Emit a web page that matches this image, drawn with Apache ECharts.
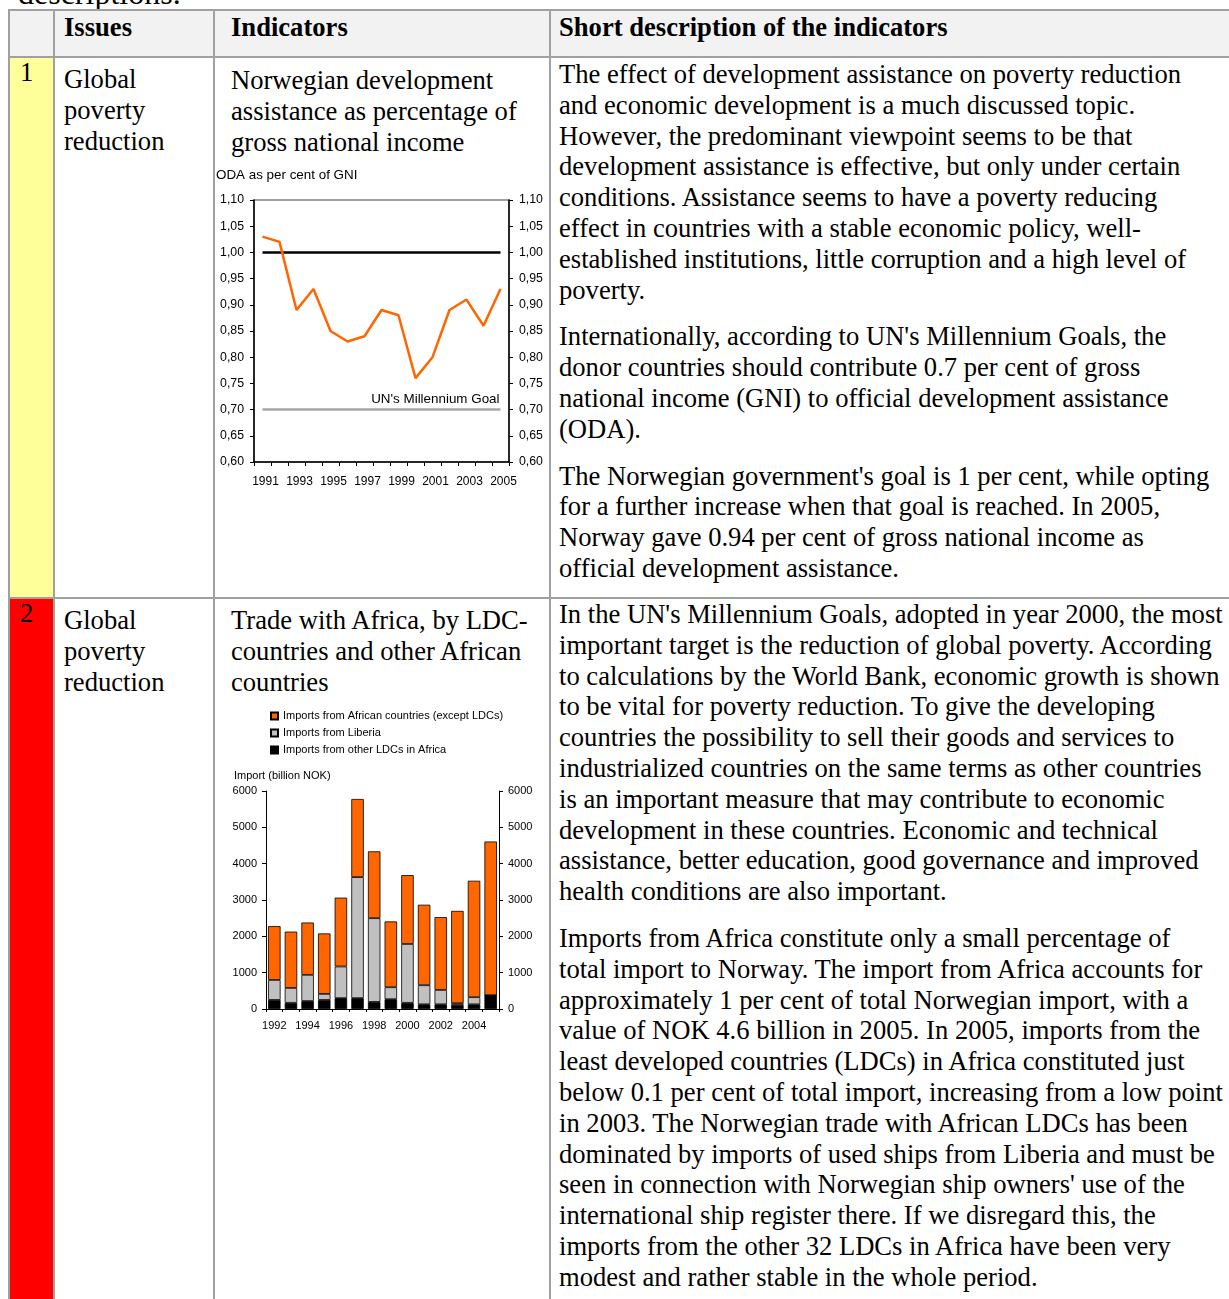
<!DOCTYPE html>
<html><head><meta charset="utf-8">
<script src="https://cdn.jsdelivr.net/npm/echarts@6/dist/echarts.min.js"></script>
<style>
html,body{margin:0;padding:0;background:#fff;}
#page{position:relative;width:1229px;height:1299px;overflow:hidden;background:#fff;font-family:'Liberation Serif','Times New Roman',serif;color:#000;}
.hl{position:absolute;height:2px;background:#a0a0a0;}
.vl{position:absolute;width:2px;background:#a0a0a0;}
.bg{position:absolute;}
.t{position:absolute;white-space:nowrap;font-size:26.6px;line-height:30.8px;}
.t p{margin:0 0 16px 0;}
.b{font-weight:bold;}
.chart{position:absolute;}
</style></head>
<body>
<div id="page">
  <div class="t" style="left:18px;top:-23px;font-size:32px;line-height:32px;">descriptions.</div>
  <!-- backgrounds -->
  <div class="bg" style="left:9px;top:11px;width:1230px;height:46px;background:#f2f2f2;"></div>
  <div class="bg" style="left:9px;top:58px;width:45px;height:540px;background:#ffff99;"></div>
  <div class="bg" style="left:9px;top:599px;width:45px;height:720px;background:#ff0000;"></div>
  <!-- lines -->
  <div class="hl" style="left:8px;top:9px;width:1230px;"></div>
  <div class="hl" style="left:8px;top:56px;width:1230px;"></div>
  <div class="hl" style="left:8px;top:597px;width:1230px;"></div>
  <div class="vl" style="left:8px;top:9px;height:1300px;"></div>
  <div class="vl" style="left:53px;top:9px;height:1300px;"></div>
  <div class="vl" style="left:213px;top:9px;height:1300px;"></div>
  <div class="vl" style="left:549px;top:9px;height:1300px;"></div>
  <!-- header -->
  <div class="t b" style="left:64px;top:12px;">Issues</div>
  <div class="t b" style="left:231px;top:12px;">Indicators</div>
  <div class="t b" style="left:559px;top:12px;">Short description of the indicators</div>
  <!-- row 1 -->
  <div class="t" style="left:20px;top:57px;">1</div>
  <div class="t" style="left:64px;top:64px;">Global<br>poverty<br>reduction</div>
  <div class="t" style="left:231px;top:65px;">Norwegian development<br>assistance as percentage of<br>gross national income</div>
  <div class="t" style="left:559px;top:59px;">
    <p>The effect of development assistance on poverty reduction<br>and economic development is a much discussed topic.<br>However, the predominant viewpoint seems to be that<br>development assistance is effective, but only under certain<br>conditions. Assistance seems to have a poverty reducing<br>effect in countries with a stable economic policy, well-<br>established institutions, little corruption and a high level of<br>poverty.</p>
    <p>Internationally, according to UN's Millennium Goals, the<br>donor countries should contribute 0.7 per cent of gross<br>national income (GNI) to official development assistance<br>(ODA).</p>
    <p>The Norwegian government's goal is 1 per cent, while opting<br>for a further increase when that goal is reached. In 2005,<br>Norway gave 0.94 per cent of gross national income as<br>official development assistance.</p>
  </div>
  <!-- row 2 -->
  <div class="t" style="left:20px;top:598px;">2</div>
  <div class="t" style="left:64px;top:605px;">Global<br>poverty<br>reduction</div>
  <div class="t" style="left:231px;top:605px;">Trade with Africa, by LDC-<br>countries and other African<br>countries</div>
  <div class="t" style="left:559px;top:599px;">
    <p>In the UN's Millennium Goals, adopted in year 2000, the most<br>important target is the reduction of global poverty. According<br>to calculations by the World Bank, economic growth is shown<br>to be vital for poverty reduction. To give the developing<br>countries the possibility to sell their goods and services to<br>industrialized countries on the same terms as other countries<br>is an important measure that may contribute to economic<br>development in these countries. Economic and technical<br>assistance, better education, good governance and improved<br>health conditions are also important.</p>
    <p>Imports from Africa constitute only a small percentage of<br>total import to Norway. The import from Africa accounts for<br>approximately 1 per cent of total Norwegian import, with a<br>value of NOK 4.6 billion in 2005. In 2005, imports from the<br>least developed countries (LDCs) in Africa constituted just<br>below 0.1 per cent of total import, increasing from a low point<br>in 2003. The Norwegian trade with African LDCs has been<br>dominated by imports of used ships from Liberia and must be<br>seen in connection with Norwegian ship owners' use of the<br>international ship register there. If we disregard this, the<br>imports from the other 32 LDCs in Africa have been very<br>modest and rather stable in the whole period.</p>
  </div>
  <div id="c1" class="chart" style="left:214px;top:160px;width:336px;height:335px;"></div>
  <div id="c2" class="chart" style="left:230px;top:700px;width:320px;height:340px;"></div>
</div>
<script>
// ---- Chart 1 data ----
const odaYears = ['1991','1992','1993','1994','1995','1996','1997','1998','1999','2000','2001','2002','2003','2004','2005'];
const odaPct = [1.03,1.02,0.89,0.93,0.85,0.83,0.84,0.89,0.88,0.76,0.80,0.89,0.91,0.86,0.93];
const norwayGoal = [1.00,1.00,1.00,1.00,1.00,1.00,1.00,1.00,1.00,1.00,1.00,1.00,1.00,1.00,1.00];
const unGoal = [0.70,0.70,0.70,0.70,0.70,0.70,0.70,0.70,0.70,0.70,0.70,0.70,0.70,0.70,0.70];
const odaTitle = 'ODA as per cent of GNI';
const unGoalLabel = "UN's Millennium Goal";

// ---- Chart 2 data ----
const tradeYears = ['1992','1993','1994','1995','1996','1997','1998','1999','2000','2001','2002','2003','2004','2005'];
const otherLDC = [250,170,220,250,300,300,195,270,170,130,130,110,130,380];
const liberia = [550,410,720,165,870,3330,2305,330,1620,525,395,50,195,0];
const otherAfrica = [1480,1550,1440,1665,1895,2150,1840,1810,1895,2215,2005,2540,3205,4230];
const tradeNames = ['Imports from African countries (except LDCs)','Imports from Liberia','Imports from other LDCs in Africa'];
const tradeTitle = 'Import (billion NOK)';

const sans = "'Liberation Sans', Arial, sans-serif";

const c1 = echarts.init(document.getElementById('c1'));
const yAx1 = (pos) => ({
  type:'value', position:pos, min:0.6, max:1.1, interval:0.05,
  axisLine:{show:true, lineStyle:{color:'#000', width:1.5}},
  axisTick:{show:true, length:4, lineStyle:{color:'#000'}},
  axisLabel:{fontFamily:sans, fontSize:12.3, color:'#000', margin:10, formatter:v=>v.toFixed(2).replace('.',',')},
  splitLine:{show:false}
});
c1.setOption({
  animation:false,
  grid:{left:40,right:41,top:40,bottom:33,show:true,borderColor:'#808080',borderWidth:1.5,containLabel:false,outerBoundsMode:'none'},
  graphic:[{type:'text',left:2,top:9,style:{text:odaTitle,font:"13.4px "+sans,fill:'#000'}}],
  xAxis:{type:'category',data:odaYears,boundaryGap:true,
    axisLine:{lineStyle:{color:'#000',width:1.5}},
    axisTick:{show:true,interval:0,length:4,lineStyle:{color:'#000'}},
    axisLabel:{interval:1,fontFamily:sans,fontSize:12,color:'#000',margin:14,padding:[0,0,0,6]}},
  yAxis:[yAx1('left'), yAx1('right')],
  series:[
    {type:'line',data:norwayGoal,symbol:'none',lineStyle:{color:'#000',width:2.5},z:2},
    {type:'line',data:unGoal,symbol:'none',lineStyle:{color:'#a6a6a6',width:2.5},z:2,
      endLabel:{show:true,formatter:unGoalLabel,align:'right',verticalAlign:'bottom',distance:0,offset:[-1,-4],fontFamily:sans,fontSize:13.4,color:'#000'}},
    {type:'line',data:odaPct,symbol:'none',lineStyle:{color:'#ff6600',width:2.5},z:3}
  ]
});

const c2 = echarts.init(document.getElementById('c2'));
const yAx2 = (pos) => ({
  type:'value', position:pos, min:0, max:6000, interval:1000,
  axisLine:{show:true, lineStyle:{color:'#000', width:1}},
  axisTick:{show:true, length:4, lineStyle:{color:'#000'}},
  axisLabel:{fontFamily:sans, fontSize:11, color:'#000', margin:9, formatter:v=>String(v)},
  splitLine:{show:false}
});
const barStyle = (c)=>({color:c,borderColor:'#000',borderWidth:0.8});
c2.setOption({
  animation:false,
  grid:{left:36,right:51,top:91,bottom:31,containLabel:false,outerBoundsMode:'none'},
  graphic:[{type:'text',left:4,top:70,style:{text:tradeTitle,font:"11px "+sans,fill:'#000'}}],
  legend:{orient:'vertical',left:40,top:10,padding:0,itemWidth:7,itemHeight:7,itemGap:5,
    data:tradeNames,icon:'rect',
    textStyle:{fontFamily:sans,fontSize:11,color:'#000',lineHeight:12}},
  xAxis:{type:'category',data:tradeYears,boundaryGap:true,
    axisLine:{lineStyle:{color:'#000',width:1}},
    axisTick:{show:true,interval:0,length:3,lineStyle:{color:'#000'}},
    axisLabel:{interval:1,fontFamily:sans,fontSize:11,color:'#000',margin:11}},
  yAxis:[yAx2('left'), yAx2('right')],
  series:[
    {name:tradeNames[2],type:'bar',stack:'t',data:otherLDC,barCategoryGap:'25%',itemStyle:barStyle('#000000')},
    {name:tradeNames[1],type:'bar',stack:'t',data:liberia,itemStyle:barStyle('#c0c0c0')},
    {name:tradeNames[0],type:'bar',stack:'t',data:otherAfrica,itemStyle:barStyle('#ff6600')}
  ]
});
</script>
</body></html>
